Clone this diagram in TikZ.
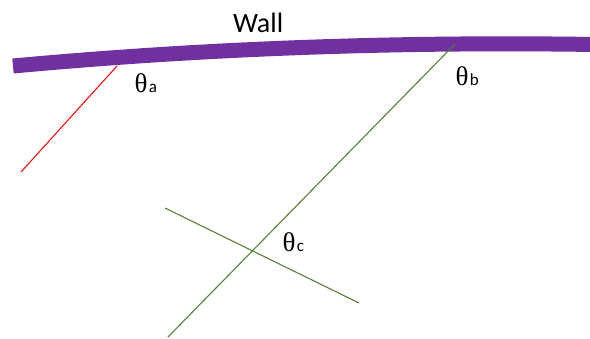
\documentclass[tikz,border=0pt]{standalone}
\usepackage{fontspec}
\setmainfont{Carlito}
\newfontfamily\thetafont{Liberation Serif}
\definecolor{wallpurple}{HTML}{7030A0}
\definecolor{raygreen}{HTML}{548235}
\definecolor{rayred}{HTML}{FF0000}
\newcommand\thlabel[1]{{\fontsize{27}{30}\selectfont\thetafont θ}\kern1.5pt{\fontsize{17}{20}\selectfont #1}}
\tikzset{
  wallline/.style={draw=wallpurple, line width=15pt, line cap=butt},
  redray/.style={draw=rayred, line width=1pt},
  greenray/.style={draw=raygreen, line width=1.1pt},
  lbl/.style={inner sep=0pt, outer sep=0pt, anchor=base west, text=black}
}
\begin{document}
\begin{tikzpicture}[x=1pt,y=-1pt]
\useasboundingbox (0,0) rectangle (590,338);
% wall
\coordinate (wl) at (13,66);
\coordinate (wr) at (595,44.5);
\draw[wallline] (wl) .. controls (205,48.3) and (397.6,41.5) .. (wr);
% red ray
\coordinate (ra) at (117,66);
\coordinate (rb) at (21,172);
\draw[redray] (ra) -- (rb);
% green rays
\coordinate (ga) at (455,44);
\coordinate (gb) at (168,337);
\draw[greenray] (ga) -- (gb);
\coordinate (ca) at (165,208);
\coordinate (cb) at (359,303);
\draw[greenray] (ca) -- (cb);
% labels
\node[lbl] (walllabel) at (233,32) {\fontsize{28}{32}\selectfont Wall};
\node[lbl] (tha) at (134.5,92) {\thlabel{a}};
\node[lbl] (thb) at (455.5,85) {\thlabel{b}};
\node[lbl] (thc) at (282.5,251) {\thlabel{c}};
\end{tikzpicture}
\end{document}
